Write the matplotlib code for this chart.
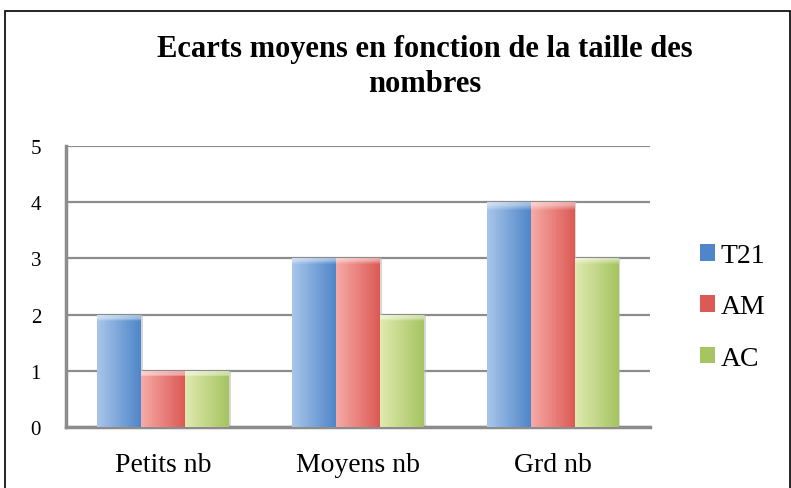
import numpy as np
import matplotlib
matplotlib.use("Agg")
import matplotlib.pyplot as plt
from matplotlib.patches import Rectangle, Patch
from matplotlib.colors import to_rgb

categories = ["Petits nb", "Moyens nb", "Grd nb"]
series = ["T21", "AM", "AC"]
t21 = [2, 3, 4]
am = [1, 3, 4]
ac = [1, 2, 3]
yticks = [0, 1, 2, 3, 4, 5]

# light -> dark colours for the fake Excel gradient
grads = {
    "T21": ("#a9c6ea", "#4f86c9"),
    "AM": ("#f6aaa6", "#dc5a55"),
    "AC": ("#dfeab0", "#a6c460"),
}

plt.rcParams['font.family'] = ['Liberation Serif', 'DejaVu Serif']

W, H = 791, 489
fig = plt.figure(figsize=(W / 100, H / 100), dpi=100)
ax = fig.add_axes([66/W, 61/H, 584/W, 281/H])

# outer frame
fig.patches.append(Rectangle((5/W, -0.05), 785/W, (H-12)/H + 0.05,
                             transform=fig.transFigure, fill=False,
                             edgecolor="black", linewidth=1.2))

x = np.arange(len(categories))
w = 0.226
for i, (name, vals) in enumerate(zip(series, [t21, am, ac])):
    light, dark = grads[name]
    bars = ax.bar(x + (i - 1) * w, vals, w, color=dark, edgecolor="none", zorder=3)
    c1 = np.array(to_rgb(light))
    c2 = np.array(to_rgb(dark))
    t = np.linspace(0, 1, 50)
    row = c1[None, :] * (1 - t[:, None]) + c2[None, :] * t[:, None]
    for b in bars:
        h = b.get_height()
        img = np.repeat(row[None, :, :], 40, axis=0)
        # top bevel highlight
        ny = int(40 * min(0.1 / h, 0.3))
        for k in range(ny):
            img[k] = img[k] * 0.55 + 0.45
        im = ax.imshow(img, extent=(b.get_x(), b.get_x() + w, 0, h),
                       aspect="auto", zorder=3, interpolation="bilinear")
        im.set_clip_path(b)
        # soft shadow on the right
        ax.add_patch(Rectangle((b.get_x() + w, 0), 0.008, h, color="#bbbbbb",
                               alpha=0.6, zorder=2, lw=0))

ax.set_xlim(-0.5, 2.5)
ax.set_ylim(0, 5)
ax.set_yticks(yticks)
ax.set_xticks(x)
ax.set_xticklabels(categories)
ax.tick_params(axis="both", length=0, colors="black")
ax.tick_params(axis="y", pad=18, labelsize=15)
ax.tick_params(axis="x", pad=18, labelsize=20)
ax.yaxis.grid(True, color="#8c8c8c", linewidth=1.6, zorder=1)
ax.set_axisbelow(True)
for s in ["top", "right"]:
    ax.spines[s].set_visible(False)
for s in ["left", "bottom"]:
    ax.spines[s].set_color("#8c8c8c")
    ax.spines[s].set_linewidth(2.5)

fig.text(425/W, 1 - 57/H, "Ecarts moyens en fonction de la taille des",
         ha="center", va="baseline", fontsize=22, fontweight="bold")
fig.text(425/W, 1 - 92/H, "nombres",
         ha="center", va="baseline", fontsize=22, fontweight="bold")

handles = [Patch(facecolor=grads[n][1], edgecolor="none") for n in series]
fig.legend(handles, series, loc="center left", bbox_to_anchor=(700/W, 1 - 308/H),
           frameon=False, fontsize=20, handlelength=0.55, handleheight=0.55,
           handletextpad=0.2, labelspacing=0.95, borderpad=0, borderaxespad=0)

fig.savefig("out.png", dpi=100)
